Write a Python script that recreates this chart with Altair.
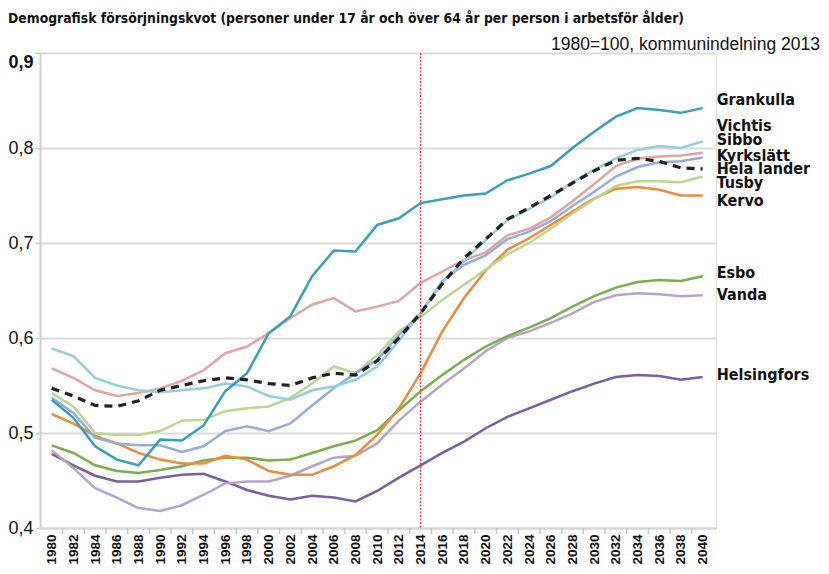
import altair as alt
import pandas as pd

years = list(range(1980, 2041, 2))

grankulla = [0.535, 0.516, 0.486, 0.472, 0.466, 0.493, 0.492, 0.508, 0.544, 0.563, 0.605,
             0.623, 0.665, 0.692, 0.691, 0.719, 0.726, 0.742, 0.746, 0.750, 0.752, 0.766,
             0.773, 0.781, 0.800, 0.817, 0.833, 0.842, 0.840, 0.837, 0.842]
sibbo = [0.589, 0.581, 0.558, 0.550, 0.545, 0.543, 0.545, 0.547, 0.552, 0.549, 0.539,
         0.535, 0.545, 0.549, 0.556, 0.570, 0.597, 0.626, 0.658, 0.681, 0.703, 0.724,
         0.736, 0.748, 0.764, 0.777, 0.789, 0.798, 0.802, 0.800, 0.807]
vichtis = [0.568, 0.558, 0.545, 0.539, 0.542, 0.547, 0.555, 0.566, 0.584, 0.591, 0.605,
           0.621, 0.635, 0.642, 0.628, 0.633, 0.639, 0.658, 0.670, 0.682, 0.690, 0.708,
           0.715, 0.727, 0.744, 0.762, 0.781, 0.789, 0.791, 0.792, 0.795]
kyrkslatt = [0.537, 0.521, 0.495, 0.489, 0.487, 0.487, 0.480, 0.486, 0.502, 0.507, 0.502,
             0.510, 0.529, 0.547, 0.563, 0.577, 0.603, 0.626, 0.660, 0.677, 0.687, 0.704,
             0.712, 0.723, 0.739, 0.754, 0.770, 0.780, 0.785, 0.786, 0.790]
hela = [0.547, 0.539, 0.529, 0.528, 0.534, 0.545, 0.550, 0.555, 0.558, 0.556, 0.552,
        0.550, 0.558, 0.563, 0.561, 0.576, 0.600, 0.626, 0.657, 0.684, 0.704, 0.725,
        0.737, 0.750, 0.763, 0.776, 0.787, 0.789, 0.786, 0.779, 0.778]
tusby = [0.542, 0.528, 0.500, 0.498, 0.498, 0.502, 0.513, 0.514, 0.523, 0.526, 0.528,
         0.537, 0.552, 0.570, 0.563, 0.582, 0.607, 0.622, 0.640, 0.656, 0.672, 0.688,
         0.700, 0.715, 0.731, 0.746, 0.760, 0.765, 0.765, 0.764, 0.770]
kervo = [0.520, 0.510, 0.497, 0.489, 0.479, 0.472, 0.468, 0.468, 0.476, 0.472, 0.460,
         0.456, 0.456, 0.465, 0.477, 0.498, 0.526, 0.563, 0.607, 0.642, 0.671, 0.693,
         0.705, 0.719, 0.733, 0.747, 0.757, 0.759, 0.756, 0.750, 0.750]
esbo = [0.487, 0.479, 0.466, 0.460, 0.458, 0.461, 0.465, 0.471, 0.474, 0.474, 0.471,
        0.472, 0.479, 0.486, 0.492, 0.503, 0.524, 0.544, 0.561, 0.577, 0.591, 0.602,
        0.611, 0.621, 0.633, 0.644, 0.653, 0.659, 0.661, 0.660, 0.665]
vanda = [0.482, 0.463, 0.442, 0.432, 0.421, 0.418, 0.424, 0.435, 0.447, 0.449, 0.449,
         0.455, 0.465, 0.474, 0.476, 0.489, 0.513, 0.533, 0.551, 0.568, 0.586, 0.600,
         0.607, 0.616, 0.626, 0.638, 0.645, 0.647, 0.646, 0.644, 0.645]
helsingfors = [0.478, 0.466, 0.455, 0.449, 0.449, 0.453, 0.456, 0.457, 0.449, 0.440, 0.434,
               0.430, 0.434, 0.432, 0.428, 0.439, 0.453, 0.466, 0.479, 0.491, 0.505, 0.517,
               0.526, 0.535, 0.544, 0.552, 0.559, 0.561, 0.560, 0.556, 0.559]

series_names = ["Helsingfors", "Vanda", "Esbo", "Kervo", "Tusby", "Kyrkslätt",
                "Vichtis", "Sibbo", "Grankulla", "Hela lander"]
series_values = [helsingfors, vanda, esbo, kervo, tusby, kyrkslatt,
                 vichtis, sibbo, grankulla, hela]
series_colors = ["#7b5e9f", "#b4a4cc", "#74b04c", "#ee8a3c", "#b9d78e", "#93acdc",
                 "#e0a4a2", "#92cddd", "#36a0b8", "#222222"]

label_names = ["Grankulla", "Vichtis", "Sibbo", "Kyrkslätt", "Hela lander", "Tusby",
               "Kervo", "Esbo", "Vanda", "Helsingfors"]
label_values = [0.851, 0.823, 0.808, 0.792, 0.778, 0.763, 0.744, 0.668, 0.645, 0.561]
label_year = 2040

forecast_year = 2014
tick_years = list(range(1981, 2041, 2))

title_text = ("Demografisk försörjningskvot (personer under 17 år och över 64 år "
              "per person i arbetsför ålder)")
subtitle_text = "1980=100, kommunindelning 2013"

COND = "DejaVu Sans Condensed, Liberation Sans Narrow, sans-serif"

rows = []
for name, vals in zip(series_names, series_values):
    for yr, v in zip(years, vals):
        rows.append({"year": yr, "value": v, "series": name})
df = pd.DataFrame(rows)

W, H = 676, 475

x_scale = alt.Scale(domain=[1978.92, 2041.23], nice=False, zero=False)
y_scale = alt.Scale(domain=[0.4, 0.9], nice=False, zero=False)
color_scale = alt.Scale(domain=series_names, range=series_colors)

x_axis = alt.Axis(
    values=years,
    labelExpr="toString(datum.value)",
    labelAngle=-90,
    labelFont="Liberation Sans",
    labelFontSize=13.5,
    labelFontWeight="bold",
    labelColor="#111111",
    labelOverlap=False,
    labelFlush=False,
    labelSeparation=0,
    labelBound=False,
    labelPadding=6,
    ticks=False,
    domainColor="#d6d6d6",
    domainWidth=2,
    grid=False,
    title=None,
)
y_axis = alt.Axis(
    values=[0.4, 0.5, 0.6, 0.7, 0.8, 0.9],
    labelExpr="replace(format(datum.value, '.1f'), '.', ',')",
    labelFont="Liberation Sans",
    labelFontSize=18,
    labelColor="#111111",
    labelFontWeight=alt.condition("datum.value >= 0.89", alt.value("bold"), alt.value("normal")),
    labelBaseline=alt.condition("datum.value >= 0.89", alt.value("top"), alt.value("middle")),
    labelPadding=2,
    tickSize=5,
    tickColor="#c8c8c8",
    tickWidth=1.5,
    domainColor="#d0d0d0",
    domainWidth=2,
    gridColor="#d9d9d9",
    gridWidth=2,
    title=None,
)

X = alt.X("year:Q", scale=x_scale, axis=x_axis)
Y = alt.Y("value:Q", scale=y_scale, axis=y_axis)

base = alt.Chart(df)

solid = base.transform_filter(alt.datum.series != "Hela lander").mark_line(
    strokeWidth=2.5
).encode(
    x=X, y=Y,
    color=alt.Color("series:N", scale=color_scale, legend=None),
    detail="series:N",
)

dashed = base.transform_filter(alt.datum.series == "Hela lander").mark_line(
    strokeWidth=3.2, strokeDash=[8, 6]
).encode(
    x=X, y=Y,
    color=alt.Color("series:N", scale=color_scale, legend=None),
)

ticks = alt.Chart(pd.DataFrame({"year": tick_years})).mark_rule(
    color="#c4c4c4", strokeWidth=1.5
).encode(x=X, y=alt.value(H), y2=alt.value(H + 6))

rule = alt.Chart(pd.DataFrame({"year": [forecast_year]})).mark_rule(
    color="#e0474c", strokeWidth=1.5, strokeDash=[2, 1.5]
).encode(x=X)

labels = alt.Chart(pd.DataFrame({"name": label_names, "value": label_values,
                                 "year": [label_year] * len(label_names)})).mark_text(
    align="left", baseline="middle", dx=14, font=COND,
    fontSize=16, fontWeight="bold", color="#111111"
).encode(x=X, y=Y, text="name:N")

subtitle = alt.Chart(pd.DataFrame({"t": [subtitle_text]})).mark_text(
    align="right", baseline="alphabetic", font="Liberation Sans", fontSize=17.5,
    color="#111111"
).encode(x=alt.value(780), y=alt.value(-3), text="t:N")

title = alt.Chart(pd.DataFrame({"t": [title_text]})).mark_text(
    align="left", baseline="alphabetic", font=COND, fontSize=13.8, fontWeight="bold",
    color="#111111"
).encode(x=alt.value(-32), y=alt.value(-30), text="t:N")

chart = alt.layer(solid, dashed, rule, ticks, labels, subtitle, title).properties(
    width=W,
    height=H,
    autosize=alt.AutoSizeParams(type="none"),
    padding={"left": 32, "top": 45, "right": 104, "bottom": 38},
).configure_view(fill="#f2f2f2", strokeWidth=0).configure_axisX(
    labelOverlap=False
).configure(background="white")

chart.save("out.html", embed_options={"renderer": "svg", "actions": False})
